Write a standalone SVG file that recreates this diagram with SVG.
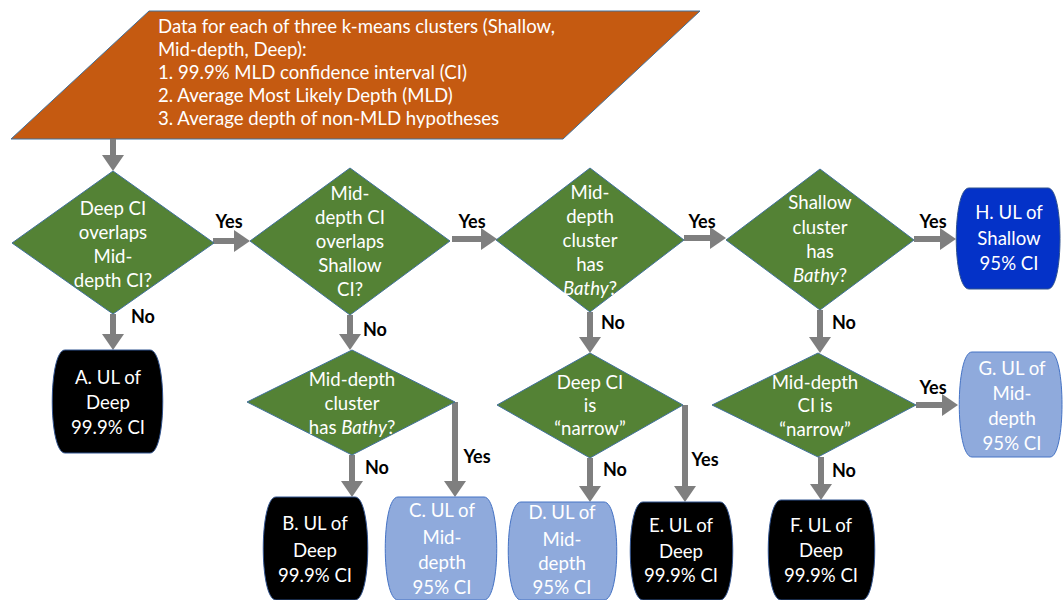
<svg xmlns="http://www.w3.org/2000/svg" width="1063" height="600" viewBox="0 0 1063 600">
<defs>
<marker id="ah" markerUnits="userSpaceOnUse" markerWidth="18" markerHeight="24" refX="8" refY="11" orient="auto">
<path d="M0,0 L16,11 L0,22 Z" fill="#7f7f7f"/>
</marker>
<style>
.dia{fill:#548235;stroke:#41719c;stroke-width:1}
.t{font-family:Lato,"Open Sans",sans-serif;font-size:18.6px;fill:#ffffff;text-anchor:middle}
.tl{font-family:Lato,"Open Sans",sans-serif;font-size:18.6px;fill:#ffffff}
.lb{font-family:Lato,"Open Sans",sans-serif;font-size:18px;font-weight:bold;fill:#000000;text-anchor:middle}
.blk{fill:#000000;stroke:#2f528f;stroke-width:1}
.lt{fill:#8faadc;stroke:#4472c4;stroke-width:1}
.dk{fill:#0432c8;stroke:#2f528f;stroke-width:1}
.c{fill:none;stroke:#7f7f7f;stroke-width:6;marker-end:url(#ah)}
</style>
</defs>
<rect width="1063" height="600" fill="#ffffff"/>

<g id="start">
<polygon points="149,11 700,11 563,139 11,139" fill="#c55a11" stroke="#41719c" stroke-width="1"/>
<text class="tl" x="158" y="33">Data for each of three k-means clusters (Shallow,</text>
<text class="tl" x="158" y="56">Mid-depth, Deep):</text>
<text class="tl" x="158" y="79">1. 99.9% MLD confidence interval (CI)</text>
<text class="tl" x="158" y="102">2. Average Most Likely Depth (MLD)</text>
<text class="tl" x="158" y="125">3. Average depth of non-MLD hypotheses</text>
</g>

<g id="connectors">
<path class="c" d="M113,139 V163"/>
<path class="c" d="M113,314 V342"/>
<path class="c" d="M213,241 H242"/>
<path class="c" d="M350,315 V342"/>
<path class="c" d="M452,239 H489"/>
<path class="c" d="M684,238 H718"/>
<path class="c" d="M914,239 H948"/>
<path class="c" d="M590,312 V345"/>
<path class="c" d="M820,310 V345"/>
<path class="c" d="M352,455 V489"/>
<path class="c" d="M455,402 V489"/>
<path class="c" d="M590,458 V494"/>
<path class="c" d="M685,405 V494"/>
<path class="c" d="M821,457 V492"/>
<path class="c" d="M916,405 H950"/>
<text class="lb" x="229" y="228">Yes</text>
<text class="lb" x="472" y="228">Yes</text>
<text class="lb" x="702" y="228">Yes</text>
<text class="lb" x="933" y="228">Yes</text>
<text class="lb" x="143" y="323">No</text>
<text class="lb" x="375" y="336">No</text>
<text class="lb" x="613" y="329">No</text>
<text class="lb" x="844" y="329">No</text>
<text class="lb" x="377" y="474">No</text>
<text class="lb" x="477" y="463">Yes</text>
<text class="lb" x="615" y="476">No</text>
<text class="lb" x="705" y="466">Yes</text>
<text class="lb" x="933" y="394">Yes</text>
<text class="lb" x="844" y="477">No</text>
</g>

<g id="d1">
<polygon class="dia" points="113,171 214,243 113,314 12,243"/>
<text class="t" x="113" y="215">Deep CI</text>
<text class="t" x="113" y="239">overlaps</text>
<text class="t" x="113" y="263">Mid-</text>
<text class="t" x="113" y="287">depth CI?</text>
</g>

<g id="d2">
<polygon class="dia" points="350,168 450,241 350,315 250,241"/>
<text class="t" x="350" y="200">Mid-</text>
<text class="t" x="350" y="224">depth CI</text>
<text class="t" x="350" y="248">overlaps</text>
<text class="t" x="350" y="272">Shallow</text>
<text class="t" x="350" y="296">CI?</text>
</g>

<g id="d3">
<polygon class="dia" points="590,168 684,240 590,312 496,240"/>
<text class="t" x="590" y="199">Mid-</text>
<text class="t" x="590" y="223">depth</text>
<text class="t" x="590" y="247">cluster</text>
<text class="t" x="590" y="271">has</text>
<text class="t" x="590" y="295"><tspan font-style="italic">Bathy</tspan>?</text>
</g>

<g id="d6">
<polygon class="dia" points="820,169 914,240 820,310 726,240"/>
<text class="t" x="820" y="209">Shallow</text>
<text class="t" x="820" y="234">cluster</text>
<text class="t" x="820" y="258">has</text>
<text class="t" x="820" y="282"><tspan font-style="italic">Bathy</tspan>?</text>
</g>

<g id="d4">
<polygon class="dia" points="352,350 455,402 352,455 247,402"/>
<text class="t" x="352" y="386">Mid-depth</text>
<text class="t" x="352" y="410">cluster</text>
<text class="t" x="352" y="434">has <tspan font-style="italic">Bathy</tspan>?</text>
</g>

<g id="d5">
<polygon class="dia" points="590,353 683,405 590,458 497,405"/>
<text class="t" x="590" y="389">Deep CI</text>
<text class="t" x="590" y="412">is</text>
<text class="t" x="590" y="435">“narrow”</text>
</g>

<g id="d7">
<polygon class="dia" points="818,353 916,405 818,457 712,405"/>
<text class="t" x="815" y="389">Mid-depth</text>
<text class="t" x="815" y="412">CI is</text>
<text class="t" x="815" y="436">“narrow”</text>
</g>

<g id="nA">
<path class="blk" d="M65,350 H150 C167,350 167,453 150,453 H65 C48,453 48,350 65,350 Z"/>
<text class="t" x="108" y="384">A. UL of</text>
<text class="t" x="108" y="409">Deep</text>
<text class="t" x="108" y="434">99.9% CI</text>
</g>

<g id="nB">
<path class="blk" d="M276,497 H355 C372,497 372,600 355,600 H276 C259,600 259,497 276,497 Z"/>
<text class="t" x="315" y="530">B. UL of</text>
<text class="t" x="315" y="557">Deep</text>
<text class="t" x="315" y="582">99.9% CI</text>
</g>

<g id="nC">
<path class="lt" d="M398,497 H484 C501,497 501,600 484,600 H398 C381,600 381,497 398,497 Z"/>
<text class="t" x="442" y="517">C. UL of</text>
<text class="t" x="442" y="544">Mid-</text>
<text class="t" x="442" y="569">depth</text>
<text class="t" x="442" y="594">95% CI</text>
</g>

<g id="nD">
<path class="lt" d="M521,502 H604 C621,502 621,600 604,600 H521 C504,600 504,502 521,502 Z"/>
<text class="t" x="562" y="519">D. UL of</text>
<text class="t" x="562" y="546">Mid-</text>
<text class="t" x="562" y="570">depth</text>
<text class="t" x="562" y="594">95% CI</text>
</g>

<g id="nE">
<path class="blk" d="M643,502 H720 C737,502 737,600 720,600 H643 C626,600 626,502 643,502 Z"/>
<text class="t" x="681" y="532">E. UL of</text>
<text class="t" x="681" y="558">Deep</text>
<text class="t" x="681" y="582">99.9% CI</text>
</g>

<g id="nF">
<path class="blk" d="M781,500 H862 C879,500 879,600 862,600 H781 C764,600 764,500 781,500 Z"/>
<text class="t" x="821" y="532">F. UL of</text>
<text class="t" x="821" y="557">Deep</text>
<text class="t" x="821" y="582">99.9% CI</text>
</g>

<g id="nG">
<path class="lt" d="M972,352 H1050 C1066,352 1066,457 1050,457 H972 C955,457 955,352 972,352 Z"/>
<text class="t" x="1012" y="375">G. UL of</text>
<text class="t" x="1012" y="400">Mid-</text>
<text class="t" x="1012" y="425">depth</text>
<text class="t" x="1012" y="450">95% CI</text>
</g>

<g id="nH">
<path class="dk" d="M969,188 H1048 C1064,188 1064,289 1048,289 H969 C952,289 952,188 969,188 Z"/>
<text class="t" x="1009" y="219">H. UL of</text>
<text class="t" x="1009" y="245">Shallow</text>
<text class="t" x="1009" y="270">95% CI</text>
</g>
</svg>
